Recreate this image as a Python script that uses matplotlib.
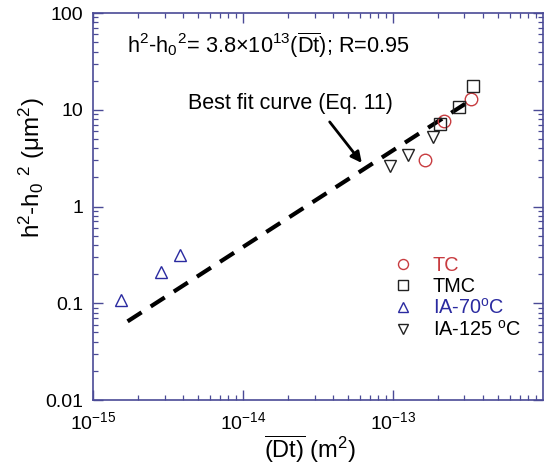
import numpy
from matplotlib import pyplot
from matplotlib.ticker import FixedLocator, NullFormatter, LogLocator

pyplot.rcParams['font.family'] = ['Liberation Sans', 'DejaVu Sans']
pyplot.rcParams['mathtext.fontset'] = 'custom'
pyplot.rcParams['mathtext.rm'] = 'Liberation Sans'
pyplot.rcParams['mathtext.it'] = 'Liberation Sans:italic'
pyplot.rcParams['mathtext.default'] = 'regular'

# data
tc_x = [1.63e-13, 2.18e-13, 3.30e-13]
tc_y = [3.04, 7.73, 12.8]
tmc_x = [2.05e-13, 2.75e-13, 3.40e-13]
tmc_y = [7.2, 10.8, 17.4]
ia70_x = [1.53e-15, 2.83e-15, 3.78e-15]
ia70_y = [0.107, 0.209, 0.313]
ia125_x = [9.55e-14, 1.26e-13, 1.84e-13]
ia125_y = [2.64, 3.43, 5.27]
fit_x = [1.7e-15, 3.45e-13]
fit_y = [0.065, 13.1]

xtick_vals = [1e-15, 1e-14, 1e-13]
xtick_labels = ['$10^{-15}$', '$10^{-14}$', '$10^{-13}$']
ytick_vals = [0.01, 0.1, 1, 10, 100]
ytick_labels = ['0.01', '0.1', '1', '10', '100']

axis_color = '#4a4a96'
red = '#c83c40'
blue = '#2a2aa0'

fig = pyplot.figure(figsize=(5.44, 4.66), dpi=100)
ax = fig.add_axes([0.171, 0.1416, 0.827, 0.8305])
ax.set_xscale('log')
ax.set_yscale('log')

ax.plot(fit_x, fit_y, color='black', linewidth=3.0,
        linestyle=(0, (4, 2.6)), zorder=2)

ms = 9
ax.plot(tc_x, tc_y, linestyle='none', marker='o', markersize=ms,
        markerfacecolor='none', markeredgecolor=red, markeredgewidth=1.0,
        label='TC', zorder=3)
ax.plot(tmc_x, tmc_y, linestyle='none', marker='s', markersize=ms,
        markerfacecolor='none', markeredgecolor='#222222', markeredgewidth=1.0,
        label='TMC', zorder=3)
ax.plot(ia70_x, ia70_y, linestyle='none', marker='^', markersize=ms,
        markerfacecolor='none', markeredgecolor=blue, markeredgewidth=1.0,
        label=r'IA-70$^\mathrm{o}$C', zorder=3)
ax.plot(ia125_x, ia125_y, linestyle='none', marker='v', markersize=ms,
        markerfacecolor='none', markeredgecolor='#222222', markeredgewidth=1.0,
        label=r'IA-125 $^\mathrm{o}$C', zorder=3)

ax.set_xlim(1e-15, 1e-12)
ax.set_ylim(0.01, 100)

ax.xaxis.set_major_locator(FixedLocator(xtick_vals))
ax.set_xticklabels(xtick_labels)
ax.xaxis.set_minor_locator(LogLocator(base=10, subs=numpy.arange(2, 10)))
ax.xaxis.set_minor_formatter(NullFormatter())
ax.yaxis.set_major_locator(FixedLocator(ytick_vals))
ax.set_yticklabels(ytick_labels)
ax.yaxis.set_minor_locator(LogLocator(base=10, subs=numpy.arange(2, 10)))
ax.yaxis.set_minor_formatter(NullFormatter())

for side in ax.spines.values():
  side.set_color(axis_color)
  side.set_linewidth(1.2)
ax.tick_params(which='both', direction='in', top=True, right=True,
               color=axis_color, labelsize=14)
ax.tick_params(which='major', length=7, width=1.0)
ax.tick_params(which='minor', length=3.5, width=0.9)
ax.tick_params(axis='x', which='major', pad=8)
ax.tick_params(axis='y', which='major', pad=7)

ax.set_xlabel(r'$\overline{(Dt)}$ (m$^2$)', fontsize=17)
ax.xaxis.set_label_coords(0.482, -0.085)
ax.set_ylabel(r'h$^2$-h$_0$ $^2$ ($\mu$m$^2$)', fontsize=17.5)
ax.yaxis.set_label_coords(-0.102, 0.60)

ax.text(1.69e-15, 46.7,
        r'h$^2$-h$_0$$^2$= 3.8$\times$10$^{13}$($\overline{Dt}$); R=0.95',
        fontsize=15.7, va='center', ha='left')
ax.annotate('Best fit curve (Eq. 11)', xy=(6.2e-14, 2.82), xytext=(4.3e-15, 11.7),
            fontsize=15.5, ha='left', va='center',
            arrowprops=dict(arrowstyle='-|>', color='black', linewidth=2.0,
                            mutation_scale=16, shrinkA=5, shrinkB=0,
                            relpos=(0.66, 0.0)))

leg = ax.legend(loc='upper left', bbox_to_anchor=(0.649, 0.393), frameon=False,
                fontsize=14.3, handlelength=1.0, handletextpad=1.0,
                labelspacing=0.1, borderaxespad=0.0, markerscale=0.8)
for text, col in zip(leg.get_texts(), [red, 'black', blue, 'black']):
  text.set_color(col)

fig.savefig('out.png', dpi=100)
